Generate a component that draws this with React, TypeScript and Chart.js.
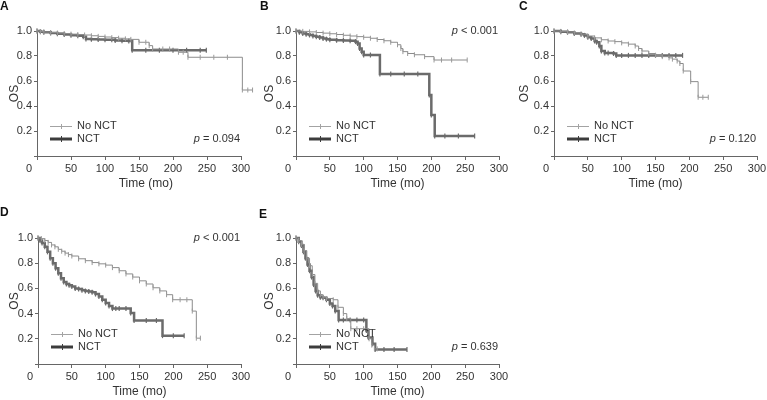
import React, { useEffect, useRef } from "react";
import { Chart, registerables } from "chart.js";

Chart.register(...registerables);

// ---------- data ----------
const xTickValues = [0, 50, 100, 150, 200, 250, 300];
const yTickValues = [0, 0.2, 0.4, 0.6, 0.8, 1.0];
const seriesNames = ["No NCT", "NCT"];
const panelLetters = ["A", "B", "C", "D", "E"];
const pOperators = ["=", "<", "=", "<", "="];
const pNumbers = ["0.094", "0.001", "0.120", "0.001", "0.639"];

// Panel A
const noNctA_t = [0, 5, 10, 20, 30, 40, 50, 60, 70, 80, 90, 100, 110, 120, 130, 138, 150, 160, 165, 170, 185, 195, 208, 215, 222, 240, 260, 280, 302, 310, 317];
const noNctA_s = [1.0, 0.996, 0.992, 0.988, 0.984, 0.98, 0.975, 0.972, 0.968, 0.962, 0.957, 0.952, 0.947, 0.942, 0.937, 0.933, 0.91, 0.91, 0.883, 0.856, 0.856, 0.856, 0.83, 0.83, 0.79, 0.79, 0.79, 0.79, 0.528, 0.528, 0.528];
const nctA_t = [0, 5, 10, 20, 30, 40, 50, 60, 68, 72, 80, 90, 100, 110, 115, 125, 135, 140, 160, 180, 200, 220, 240, 249];
const nctA_s = [1.0, 0.995, 0.99, 0.984, 0.978, 0.972, 0.966, 0.962, 0.955, 0.936, 0.934, 0.932, 0.93, 0.93, 0.924, 0.922, 0.92, 0.846, 0.846, 0.846, 0.846, 0.846, 0.846, 0.846];

// Panel B
const noNctB_t = [0, 10, 20, 30, 40, 50, 60, 70, 80, 90, 100, 110, 120, 130, 140, 150, 155, 158, 165, 175, 190, 204, 215, 230, 253];
const noNctB_s = [1.0, 0.997, 0.993, 0.988, 0.983, 0.978, 0.972, 0.966, 0.96, 0.955, 0.95, 0.942, 0.932, 0.922, 0.91, 0.89, 0.86, 0.835, 0.82, 0.81, 0.795, 0.768, 0.768, 0.768, 0.768];
const nctB_t = [0, 5, 10, 15, 20, 25, 30, 35, 40, 45, 50, 60, 70, 80, 88, 91, 94, 97, 100, 110, 124, 140, 160, 180, 197, 200, 205, 220, 240, 264];
const nctB_s = [1.0, 0.99, 0.98, 0.975, 0.968, 0.96, 0.955, 0.948, 0.94, 0.935, 0.93, 0.927, 0.925, 0.922, 0.915, 0.9, 0.86, 0.835, 0.808, 0.808, 0.656, 0.656, 0.656, 0.656, 0.488, 0.328, 0.16, 0.16, 0.16, 0.16];

// Panel C
const noNctC_t = [0, 10, 20, 30, 40, 50, 60, 70, 80, 90, 100, 110, 120, 125, 130, 140, 150, 160, 170, 175, 182, 186, 191, 202, 213, 220, 228];
const noNctC_s = [1.0, 0.997, 0.993, 0.985, 0.975, 0.96, 0.945, 0.93, 0.92, 0.915, 0.905, 0.895, 0.88, 0.86, 0.84, 0.82, 0.805, 0.795, 0.785, 0.775, 0.76, 0.74, 0.68, 0.595, 0.47, 0.47, 0.47];
const nctC_t = [0, 10, 20, 30, 40, 45, 50, 55, 60, 63, 67, 70, 75, 80, 88, 92, 100, 110, 120, 130, 140, 150, 160, 170, 180, 190];
const nctC_s = [1.0, 0.995, 0.99, 0.98, 0.975, 0.965, 0.95, 0.94, 0.92, 0.91, 0.88, 0.84, 0.825, 0.825, 0.82, 0.805, 0.805, 0.805, 0.805, 0.805, 0.805, 0.805, 0.805, 0.805, 0.805, 0.805];

// Panel D
const noNctD_t = [0, 5, 10, 15, 20, 25, 30, 35, 40, 45, 50, 60, 70, 80, 90, 100, 110, 120, 130, 140, 150, 160, 170, 180, 190, 199, 210, 220, 228, 234, 240];
const noNctD_s = [1.0, 0.995, 0.98, 0.965, 0.945, 0.93, 0.91, 0.895, 0.88, 0.868, 0.857, 0.835, 0.82, 0.805, 0.795, 0.785, 0.765, 0.74, 0.715, 0.69, 0.66, 0.635, 0.605, 0.58, 0.55, 0.51, 0.51, 0.51, 0.42, 0.205, 0.205];
const nctD_t = [0, 3, 6, 10, 14, 18, 22, 26, 30, 34, 38, 42, 46, 50, 55, 60, 65, 70, 75, 80, 85, 90, 95, 100, 105, 110, 115, 120, 130, 137, 142, 160, 175, 184, 200, 216];
const nctD_s = [1.0, 0.98, 0.96, 0.93, 0.89, 0.84, 0.8, 0.76, 0.72, 0.68, 0.65, 0.635, 0.625, 0.615, 0.6, 0.595, 0.585, 0.58, 0.575, 0.57, 0.555, 0.535, 0.51, 0.485, 0.46, 0.44, 0.44, 0.44, 0.44, 0.405, 0.345, 0.345, 0.345, 0.225, 0.225, 0.225];

// Panel E
const noNctE_t = [0, 4, 8, 12, 16, 20, 24, 28, 32, 36, 40, 45, 55, 62, 70, 75, 81, 90, 100, 108, 112, 116, 120];
const noNctE_s = [1.0, 0.98, 0.95, 0.9, 0.84, 0.78, 0.71, 0.64, 0.58, 0.55, 0.53, 0.52, 0.51, 0.45, 0.4, 0.36, 0.28, 0.28, 0.28, 0.2, 0.15, 0.12, 0.12];
const nctE_t = [0, 4, 8, 11, 14, 17, 20, 23, 26, 29, 32, 36, 40, 45, 50, 54, 58, 63, 70, 80, 90, 100, 104, 107, 113, 117, 130, 145, 164];
const nctE_s = [1.0, 0.97, 0.94, 0.89, 0.84, 0.79, 0.74, 0.69, 0.63, 0.58, 0.545, 0.53, 0.525, 0.51, 0.48, 0.46, 0.42, 0.35, 0.35, 0.35, 0.35, 0.35, 0.265, 0.21, 0.16, 0.115, 0.115, 0.115, 0.115];

// ---------- layout (positions/styles) ----------
type Panel = {
  left: number; top: number; width: number; height: number;
  pl: number; pr: number; pt: number; pb: number; xMax: number;
  letterX: number; letterY: number; pTop: boolean;
  noT: number[]; noS: number[]; nT: number[]; nS: number[];
};

const PANELS: Panel[] = [
  { left: 0, top: 0, width: 255, height: 200, pl: 37, pr: 241, pt: 31, pb: 156, xMax: 320, letterX: 0, letterY: 7, pTop: false, noT: noNctA_t, noS: noNctA_s, nT: nctA_t, nS: nctA_s },
  { left: 255, top: 0, width: 255, height: 200, pl: 296, pr: 499, pt: 31, pb: 156, xMax: 300, letterX: 5, letterY: 7, pTop: true, noT: noNctB_t, noS: noNctB_s, nT: nctB_t, nS: nctB_s },
  { left: 510, top: 0, width: 257, height: 200, pl: 554, pr: 757, pt: 31, pb: 156, xMax: 300, letterX: 9, letterY: 7, pTop: false, noT: noNctC_t, noS: noNctC_s, nT: nctC_t, nS: nctC_s },
  { left: 0, top: 200, width: 255, height: 200, pl: 38, pr: 241, pt: 238, pb: 364, xMax: 300, letterX: 0, letterY: 13, pTop: true, noT: noNctD_t, noS: noNctD_s, nT: nctD_t, nS: nctD_s },
  { left: 255, top: 200, width: 255, height: 200, pl: 296, pr: 499, pt: 238, pb: 364, xMax: 300, letterX: 4, letterY: 15, pTop: false, noT: noNctE_t, noS: noNctE_s, nT: nctE_t, nS: nctE_s },
];

const FONT = '"Liberation Sans", Arial, Helvetica, sans-serif';
const TEXT = "#333333";
const AXIS = "#666666";
const NO_COLOR = "#8c8c8c";
const NCT_COLOR = "#6b6b6b";
const XH = 40;

function PanelChart({ p, index }: { p: Panel; index: number }) {
  const ref = useRef<HTMLCanvasElement | null>(null);
  useEffect(() => {
    const canvas = ref.current;
    if (!canvas) return;
    const yW = p.pl - p.left;
    const areaRight = p.pl + ((p.pr - p.pl) * p.xMax) / 300;
    const overlay = {
      id: "overlay" + index,
      afterDraw(chart: any) {
        const ctx = chart.ctx;
        const ca = chart.chartArea;
        const xs = chart.scales.x;
        ctx.save();
        // x axis line (0..300)
        ctx.strokeStyle = AXIS;
        ctx.lineWidth = 1;
        ctx.beginPath();
        const ay = Math.round(ca.bottom) + 0.5;
        ctx.moveTo(ca.left, ay);
        ctx.lineTo(xs.getPixelForValue(300) + 0.5, ay);
        ctx.stroke();
        // panel letter
        ctx.fillStyle = "#111";
        ctx.font = `bold 12px ${FONT}`;
        ctx.textAlign = "left";
        ctx.textBaseline = "middle";
        ctx.fillText(panelLetters[index], p.letterX, p.letterY);
        // x origin label
        ctx.fillStyle = TEXT;
        ctx.font = `11px ${FONT}`;
        ctx.textAlign = "center";
        ctx.fillText("0", ca.left - 8, ca.bottom + 13);
        // legend
        const lx0 = ca.left + 13;
        const lx1 = ca.left + 35;
        const r1 = ca.bottom - 30;
        const r2 = ca.bottom - 17;
        ctx.strokeStyle = "#a3a3a3";
        ctx.lineWidth = 1;
        ctx.beginPath();
        ctx.moveTo(lx0, r1 + 0.5);
        ctx.lineTo(lx1, r1 + 0.5);
        ctx.moveTo((lx0 + lx1) / 2 + 0.5, r1 - 2);
        ctx.lineTo((lx0 + lx1) / 2 + 0.5, r1 + 3);
        ctx.stroke();
        ctx.strokeStyle = "#3c3c3c";
        ctx.lineWidth = 3;
        ctx.beginPath();
        ctx.moveTo(lx0, r2);
        ctx.lineTo(lx1, r2);
        ctx.stroke();
        ctx.lineWidth = 1;
        ctx.beginPath();
        ctx.moveTo((lx0 + lx1) / 2 + 0.5, r2 - 3);
        ctx.lineTo((lx0 + lx1) / 2 + 0.5, r2 + 3);
        ctx.stroke();
        ctx.fillStyle = TEXT;
        ctx.textAlign = "left";
        ctx.font = `11px ${FONT}`;
        ctx.fillText(seriesNames[0], lx1 + 5, r1);
        ctx.fillText(seriesNames[1], lx1 + 5, r2);
        // p value
        const rest = ` ${pOperators[index]} ${pNumbers[index]}`;
        const py = p.pTop ? ca.top : r2;
        ctx.font = `11px ${FONT}`;
        const wRest = ctx.measureText(rest).width;
        ctx.font = `italic 11px ${FONT}`;
        const wP = ctx.measureText("p").width;
        const xEnd = xs.getPixelForValue(300) - 1;
        ctx.fillText("p", xEnd - wRest - wP, py);
        ctx.font = `11px ${FONT}`;
        ctx.fillText(rest, xEnd - wRest, py);
        ctx.restore();
      },
    };
    const mk = (t: number[], s: number[]) => t.map((x, i) => ({ x, y: s[i] }));
    const chart = new Chart(canvas, {
      type: "line",
      data: {
        datasets: [
          {
            label: seriesNames[0],
            data: mk(p.noT, p.noS),
            stepped: true,
            borderColor: NO_COLOR,
            borderWidth: 1,
            pointStyle: "line",
            rotation: 90,
            pointRadius: 2.5,
            pointBorderColor: "#9a9a9a",
            pointBorderWidth: 1,
            pointBackgroundColor: "#9a9a9a",
            clip: false as any,
          },
          {
            label: seriesNames[1],
            data: mk(p.nT, p.nS),
            stepped: true,
            borderColor: NCT_COLOR,
            borderWidth: 2.5,
            pointStyle: "line",
            rotation: 90,
            pointRadius: 2.5,
            pointBorderColor: NCT_COLOR,
            pointBorderWidth: 1.2,
            pointBackgroundColor: NCT_COLOR,
            clip: false as any,
          },
        ],
      },
      options: {
        animation: false,
        responsive: false,
        maintainAspectRatio: false,
        events: [],
        layout: {
          autoPadding: false,
          padding: {
            left: 0,
            top: p.pt - p.top,
            right: Math.max(0, p.left + p.width - areaRight),
            bottom: p.top + p.height - p.pb - XH,
          },
        },
        plugins: {
          legend: { display: false },
          tooltip: { enabled: false },
          title: { display: false },
        },
        scales: {
          x: {
            type: "linear",
            min: 0,
            max: p.xMax,
            afterFit: (s: any) => {
              s.height = XH;
              s.paddingLeft = 0;
              s.paddingRight = 0;
            },
            afterBuildTicks: (s: any) => { s.ticks = xTickValues.map((v) => ({ value: v })); },
            ticks: {
              callback: (v: any) => (Number(v) === 0 ? "" : String(v)),
              font: { family: FONT, size: 11 },
              color: TEXT,
              padding: 2,
              maxRotation: 0,
              autoSkip: false,
            },
            grid: { display: true, drawOnChartArea: false, drawTicks: true, tickLength: 4, color: AXIS },
            border: { display: false },
            title: {
              display: true,
              text: "Time (mo)",
              font: { family: FONT, size: 12 },
              color: TEXT,
              padding: { top: 0, bottom: 5 },
            },
          },
          y: {
            type: "linear",
            min: 0,
            max: 1,
            afterFit: (s: any) => {
              s.width = yW;
              s.paddingTop = 0;
              s.paddingBottom = 0;
            },
            afterBuildTicks: (s: any) => { s.ticks = yTickValues.map((v) => ({ value: v })); },
            ticks: {
              callback: (v: any) => (Number(v) === 0 ? "" : Number(v).toFixed(1)),
              font: { family: FONT, size: 11 },
              color: TEXT,
              padding: 2,
              autoSkip: false,
            },
            grid: { display: true, drawOnChartArea: false, drawTicks: true, tickLength: 3, color: AXIS },
            border: { display: true, color: AXIS, width: 1 },
            title: {
              display: true,
              text: "OS",
              font: { family: FONT, size: 12 },
              color: TEXT,
              padding: { top: 7, bottom: 0 },
            },
          },
        },
      } as any,
      plugins: [overlay],
    });
    return () => chart.destroy();
  }, [p, index]);
  return (
    <canvas
      ref={ref}
      width={p.width}
      height={p.height}
      style={{ position: "absolute", left: p.left, top: p.top, width: p.width, height: p.height }}
    />
  );
}

export default function App() {
  return (
    <div style={{ position: "fixed", left: 0, top: 0, width: 767, height: 400, background: "#fff", overflow: "hidden" }}>
      {PANELS.map((p, i) => (
        <PanelChart key={i} p={p} index={i} />
      ))}
    </div>
  );
}
